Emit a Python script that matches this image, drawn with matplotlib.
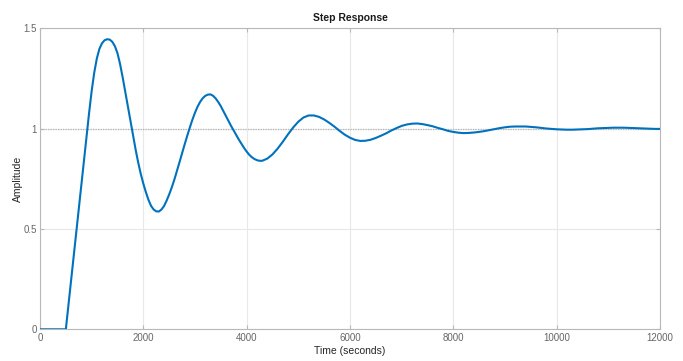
import matplotlib
matplotlib.use("Agg")
import matplotlib.pyplot as plt

plt.rcParams['font.family'] = ['Liberation Sans', 'DejaVu Sans']

# Step response samples (time in seconds, amplitude)
time_s = [0, 500, 600, 700, 800, 900, 950, 1000, 1050, 1100, 1150, 1200,
          1250, 1300, 1350, 1400, 1450, 1500, 1550, 1600, 1650, 1700, 1750,
          1800, 1850, 1900, 1950, 2000, 2050, 2100, 2150, 2200, 2250, 2300,
          2350, 2400, 2450, 2500, 2550, 2600, 2650, 2700, 2750, 2800, 2850,
          2900, 2950, 3000, 3050, 3100, 3150, 3200, 3250, 3300, 3350, 3400,
          3450, 3500, 3550, 3600, 3650, 3700, 3750, 3800, 3850, 3900, 3950,
          4000, 4050, 4100, 4150, 4200, 4250, 4300, 4400, 4500, 4600, 4700,
          4800, 4900, 5000, 5100, 5200, 5300, 5400, 5500, 5600, 5700, 5800,
          5900, 6000, 6100, 6200, 6300, 6400, 6500, 6600, 6700, 6800, 6900,
          7000, 7100, 7200, 7300, 7400, 7500, 7600, 7700, 7800, 7900, 8000,
          8100, 8200, 8300, 8400, 8500, 8600, 8700, 8800, 8900, 9000, 9100,
          9200, 9300, 9400, 9500, 9600, 9700, 9800, 9900, 10000, 10100,
          10200, 10300, 10400, 10500, 10600, 10700, 10800, 10900, 11000,
          11100, 11200, 11300, 11400, 11500, 11600, 11700, 11800, 11900,
          12000]
amplitude = [0.0, 0.0, 0.24, 0.48, 0.72, 0.96, 1.078, 1.188, 1.280, 1.350,
             1.398, 1.426, 1.441, 1.446, 1.444, 1.433, 1.411, 1.376, 1.322,
             1.256, 1.184, 1.111, 1.038, 0.966, 0.897, 0.832, 0.775, 0.726,
             0.683, 0.645, 0.615, 0.597, 0.588, 0.587, 0.597, 0.614, 0.641,
             0.672, 0.707, 0.746, 0.789, 0.833, 0.878, 0.922, 0.965, 1.006,
             1.045, 1.080, 1.110, 1.134, 1.152, 1.164, 1.170, 1.171, 1.164,
             1.151, 1.133, 1.112, 1.087, 1.062, 1.037, 1.013, 0.990, 0.967,
             0.945, 0.924, 0.904, 0.886, 0.870, 0.858, 0.849, 0.843, 0.840,
             0.840, 0.851, 0.872, 0.901, 0.935, 0.972, 1.006, 1.035, 1.056,
             1.066, 1.066, 1.059, 1.046, 1.029, 1.010, 0.989, 0.970, 0.955,
             0.944, 0.939, 0.940, 0.945, 0.954, 0.965, 0.977, 0.991, 1.003,
             1.014, 1.021, 1.025, 1.026, 1.023, 1.018, 1.012, 1.004, 0.997,
             0.989, 0.984, 0.980, 0.978, 0.979, 0.981, 0.984, 0.988, 0.993,
             0.998, 1.003, 1.007, 1.010, 1.011, 1.011, 1.011, 1.009, 1.007,
             1.004, 1.001, 0.999, 0.997, 0.996, 0.995, 0.995, 0.996, 0.997,
             0.998, 1.000, 1.002, 1.003, 1.004, 1.005, 1.005, 1.005, 1.004,
             1.003, 1.002, 1.001, 1.000, 0.999, 0.999]
steady_state = 1.0

x_ticks = [0, 2000, 4000, 6000, 8000, 10000, 12000]
x_tick_labels = ['0', '2000', '4000', '6000', '8000', '10000', '12000']
y_ticks = [0, 0.5, 1, 1.5]
y_tick_labels = ['0', '0.5', '1', '1.5']

fig = plt.figure(figsize=(6.83, 3.61), dpi=100)
ax = fig.add_axes([40 / 683, 1 - 329.3 / 361, 620 / 683, 300.9 / 361])

ax.axhline(steady_state, color='#b5b5b5', linestyle=(0, (1, 1)), linewidth=0.9,
           zorder=1)
ax.plot(time_s, amplitude, color='#0072BD', linewidth=1.5, zorder=3,
        solid_joinstyle='round', solid_capstyle='round')

ax.set_xlim(0, 12000)
ax.set_ylim(0, 1.5)
ax.set_xticks(x_ticks)
ax.set_xticklabels(x_tick_labels)
ax.set_yticks(y_ticks)
ax.set_yticklabels(y_tick_labels)

ax.grid(True, color='#e8e8e8', linewidth=0.8, zorder=0)
ax.set_axisbelow(True)
for spine in ax.spines.values():
    spine.set_color('#b8b8b8')
    spine.set_linewidth(0.8)
ax.tick_params(direction='in', length=3, width=0.8, color='#b8b8b8',
               labelsize=7, labelcolor='#666666', top=True, right=True,
               pad=2.5)

ax.set_title('Step Response', fontsize=7.5, fontweight='bold',
             color='#1a1a1a', pad=5)
ax.set_xlabel('Time (seconds)', fontsize=7.5, color='#262626')
ax.set_ylabel('Amplitude', fontsize=7.5, color='#262626')
ax.xaxis.set_label_coords(0.5, -0.055)
ax.yaxis.set_label_coords(-0.028, 0.5)

fig.savefig('out.png', dpi=100, facecolor='white')
